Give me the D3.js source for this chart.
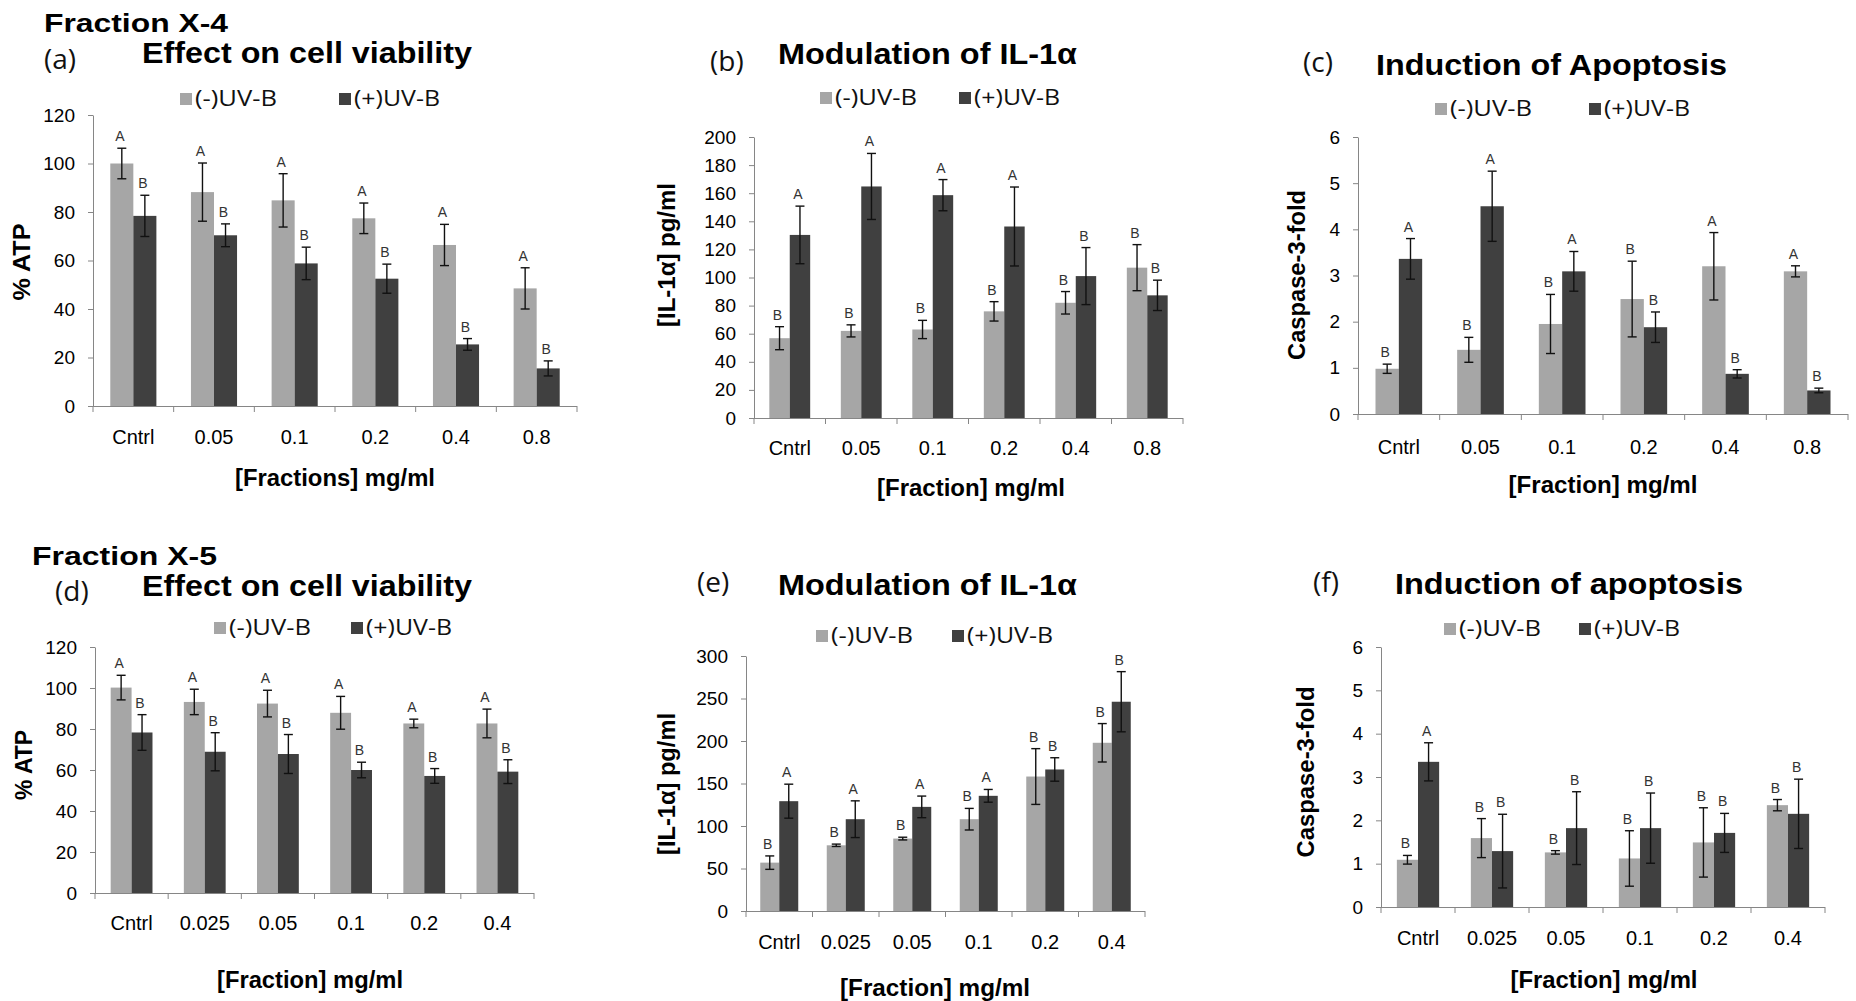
<!DOCTYPE html>
<html>
<head>
<meta charset="utf-8">
<script src="https://cdn.jsdelivr.net/npm/d3@7"></script>
<style>
  body { margin: 0; background: #fff; }
  svg { display: block; }
</style>
</head>
<body>
<div id="chart"></div>
<script>
// ---------- data ----------
var catsX4 = ["Cntrl", "0.05", "0.1", "0.2", "0.4", "0.8"];
var catsX5 = ["Cntrl", "0.025", "0.05", "0.1", "0.2", "0.4"];
var seriesNames = ["(-)UV-B", "(+)UV-B"];

// (a) Fraction X-4, cell viability (% ATP)
var atpX4Neg    = [100, 88.2, 84.8, 77.4, 66.4, 48.5];
var atpX4NegErr = [6.3, 12, 11, 6.3, 8.5, 8.5];
var atpX4Pos    = [78.4, 70.4, 58.8, 52.5, 25.4, 15.5];
var atpX4PosErr = [8.5, 4.7, 6.7, 6, 2.4, 3.1];
var atpX4NegSig = ["A", "A", "A", "A", "A", "A"];
var atpX4PosSig = ["B", "B", "B", "B", "B", "B"];

// (b) Fraction X-4, IL-1a pg/ml
var ilX4Neg    = [56.8, 62, 63, 75.9, 82, 107];
var ilX4NegErr = [8.2, 4.3, 6.5, 6.9, 8, 16.4];
var ilX4Pos    = [130.3, 164.8, 158.6, 136.3, 101, 87.3];
var ilX4PosErr = [20.5, 23.5, 11.1, 28.1, 20.3, 10.8];
var ilX4NegSig = ["B", "B", "B", "B", "B", "B"];
var ilX4PosSig = ["A", "A", "A", "A", "B", "B"];

// (c) Fraction X-4, caspase-3 fold
var casX4Neg    = [0.98, 1.39, 1.95, 2.49, 3.2, 3.09];
var casX4NegErr = [0.1, 0.27, 0.64, 0.82, 0.73, 0.12];
var casX4Pos    = [3.36, 4.5, 3.09, 1.88, 0.87, 0.51];
var casX4PosErr = [0.44, 0.76, 0.43, 0.33, 0.09, 0.05];
var casX4NegSig = ["B", "B", "B", "B", "A", "A"];
var casX4PosSig = ["A", "A", "A", "B", "B", "B"];

// (d) Fraction X-5, cell viability (% ATP)
var atpX5Neg    = [100.2, 93.2, 92.4, 87.9, 82.7, 82.7];
var atpX5NegErr = [6, 6.2, 6.5, 8, 2.1, 7];
var atpX5Pos    = [78.3, 68.9, 67.8, 60, 57.1, 59.2];
var atpX5PosErr = [8.7, 9.3, 9.5, 3.8, 3.6, 5.8];
var atpX5NegSig = ["A", "A", "A", "A", "A", "A"];
var atpX5PosSig = ["B", "B", "B", "B", "B", "B"];

// (e) Fraction X-5, IL-1a pg/ml
var ilX5Neg    = [56.9, 77.3, 85.2, 108, 158.2, 197.9];
var ilX5NegErr = [7.9, 1.4, 1.6, 12.7, 32.8, 22.6];
var ilX5Pos    = [129.2, 108, 122.5, 135.5, 166.5, 246.2];
var ilX5PosErr = [20, 21.6, 12.7, 7.5, 13.8, 35.4];
var ilX5NegSig = ["B", "B", "B", "B", "B", "B"];
var ilX5PosSig = ["A", "A", "A", "A", "B", "B"];

// (f) Fraction X-5, caspase-3 fold
var casX5Neg    = [1.09, 1.59, 1.26, 1.12, 1.49, 2.35];
var casX5NegErr = [0.1, 0.45, 0.04, 0.64, 0.8, 0.13];
var casX5Pos    = [3.35, 1.29, 1.82, 1.82, 1.71, 2.15];
var casX5PosErr = [0.44, 0.85, 0.84, 0.81, 0.45, 0.8];
var casX5NegSig = ["B", "B", "B", "B", "B", "B"];
var casX5PosSig = ["A", "B", "B", "B", "B", "B"];

// ---------- page ----------
var svgWidth = 1856;
var svgHeight = 1001;

var lightGrey = "#a6a6a6";
var darkGrey = "#404040";
var axisGrey = "#868686";
var sans = "'Liberation Sans', Arial, sans-serif";
var soft = "'Open Sans', 'Liberation Sans', sans-serif";

var svg = d3.select("#chart")
    .append("svg")
    .attr("width", svgWidth)
    .attr("height", svgHeight);

// group headings
svg.append("text").text("Fraction X-4")
    .attr("x", 44).attr("y", 32)
    .attr("textLength", 184).attr("lengthAdjust", "spacingAndGlyphs")
    .style("font-family", sans).style("font-weight", "bold").style("font-size", "26px");

svg.append("text").text("Fraction X-5")
    .attr("x", 32).attr("y", 565)
    .attr("textLength", 185).attr("lengthAdjust", "spacingAndGlyphs")
    .style("font-family", sans).style("font-weight", "bold").style("font-size", "26px");

// panel layouts (positions only; values come from the arrays above)
var panels = [
    {cats: catsX4, neg: atpX4Neg, negErr: atpX4NegErr, pos: atpX4Pos, posErr: atpX4PosErr,
     negSig: atpX4NegSig, posSig: atpX4PosSig, yMax: 120, yStep: 20,
     x0: 93, x1: 577, yTop: 115, y0: 406,
     tag: "(a)", tagX: 44, tagY: 69,
     title: "Effect on cell viability", titleX: 142, titleY: 63, titleW: 330,
     legY: 99, legX: [180, 339],
     yLabel: "% ATP", yLabX: 22, yLabY: 262, yLabW: 77,
     xLabel: "[Fractions] mg/ml", xLabX: 335, xLabY: 486, xLabW: 200, catY: 444},
    {cats: catsX4, neg: ilX4Neg, negErr: ilX4NegErr, pos: ilX4Pos, posErr: ilX4PosErr,
     negSig: ilX4NegSig, posSig: ilX4PosSig, yMax: 200, yStep: 20,
     x0: 754, x1: 1183, yTop: 137, y0: 418,
     tag: "(b)", tagX: 710, tagY: 71,
     title: "Modulation of IL-1\u03b1", titleX: 778, titleY: 64, titleW: 299,
     legY: 98, legX: [820, 959],
     yLabel: "[IL-1\u03b1] pg/ml", yLabX: 667, yLabY: 255, yLabW: 144,
     xLabel: "[Fraction] mg/ml", xLabX: 971, xLabY: 496, xLabW: 188, catY: 455},
    {cats: catsX4, neg: casX4Neg, negErr: casX4NegErr, pos: casX4Pos, posErr: casX4PosErr,
     negSig: casX4NegSig, posSig: casX4PosSig, yMax: 6, yStep: 1,
     x0: 1358, x1: 1848, yTop: 137, y0: 414,
     tag: "(c)", tagX: 1303, tagY: 72,
     title: "Induction of Apoptosis", titleX: 1376, titleY: 75, titleW: 351,
     legY: 109, legX: [1435, 1589],
     yLabel: "Caspase-3-fold", yLabX: 1297, yLabY: 275, yLabW: 170,
     xLabel: "[Fraction] mg/ml", xLabX: 1603, xLabY: 493, xLabW: 189, catY: 454},
    {cats: catsX5, neg: atpX5Neg, negErr: atpX5NegErr, pos: atpX5Pos, posErr: atpX5PosErr,
     negSig: atpX5NegSig, posSig: atpX5PosSig, yMax: 120, yStep: 20,
     x0: 95, x1: 534, yTop: 647, y0: 893,
     tag: "(d)", tagX: 55, tagY: 601,
     title: "Effect on cell viability", titleX: 142, titleY: 596, titleW: 330,
     legY: 628, legX: [214, 351],
     yLabel: "% ATP", yLabX: 24, yLabY: 765, yLabW: 70,
     xLabel: "[Fraction] mg/ml", xLabX: 310, xLabY: 988, xLabW: 186, catY: 930},
    {cats: catsX5, neg: ilX5Neg, negErr: ilX5NegErr, pos: ilX5Pos, posErr: ilX5PosErr,
     negSig: ilX5NegSig, posSig: ilX5PosSig, yMax: 300, yStep: 50,
     x0: 746, x1: 1145, yTop: 656, y0: 911,
     tag: "(e)", tagX: 697, tagY: 592,
     title: "Modulation of IL-1\u03b1", titleX: 778, titleY: 595, titleW: 299,
     legY: 636, legX: [816, 952],
     yLabel: "[IL-1\u03b1] pg/ml", yLabX: 667, yLabY: 784, yLabW: 142,
     xLabel: "[Fraction] mg/ml", xLabX: 935, xLabY: 996, xLabW: 190, catY: 949},
    {cats: catsX5, neg: casX5Neg, negErr: casX5NegErr, pos: casX5Pos, posErr: casX5PosErr,
     negSig: casX5NegSig, posSig: casX5PosSig, yMax: 6, yStep: 1,
     x0: 1381, x1: 1825, yTop: 647, y0: 907,
     tag: "(f)", tagX: 1313, tagY: 592,
     title: "Induction of apoptosis", titleX: 1395, titleY: 594, titleW: 348,
     legY: 629, legX: [1444, 1579],
     yLabel: "Caspase-3-fold", yLabX: 1306, yLabY: 772, yLabW: 171,
     xLabel: "[Fraction] mg/ml", xLabX: 1604, xLabY: 988, xLabW: 187, catY: 945}
];

panels.forEach(drawPanel);

function drawPanel(p) {
    var g = svg.append("g");

    // scales
    var x = d3.scaleBand().domain(p.cats).range([p.x0, p.x1]);
    var bw = x.bandwidth();
    var gap = bw * 1.5 / 3.5;   // excel style gap width 150%
    var xs = d3.scaleBand().domain(["neg", "pos"]).range([gap / 2, bw - gap / 2]);
    var y = d3.scaleLinear().domain([0, p.yMax]).range([p.y0, p.yTop]);

    // headings
    g.append("text").text(p.tag)
        .attr("x", p.tagX).attr("y", p.tagY)
        .style("font-family", soft).style("font-size", "28px").style("fill", "#111");

    g.append("text").text(p.title)
        .attr("x", p.titleX).attr("y", p.titleY)
        .attr("textLength", p.titleW).attr("lengthAdjust", "spacingAndGlyphs")
        .style("font-family", sans).style("font-weight", "bold").style("font-size", "30px");

    // legend
    var legendFill = [lightGrey, darkGrey];
    seriesNames.forEach(function(name, i) {
        g.append("rect")
            .attr("x", p.legX[i]).attr("y", p.legY - 6)
            .attr("width", 12).attr("height", 12)
            .attr("fill", legendFill[i]);
        g.append("text").text(name)
            .attr("x", p.legX[i] + 15).attr("y", p.legY + 7)
            .attr("textLength", i === 0 ? 82 : 86).attr("lengthAdjust", "spacingAndGlyphs")
            .style("font-family", soft).style("font-size", "21px").style("fill", "#111");
    });

    // y axis
    var yAxis = d3.axisLeft(y)
        .tickValues(d3.range(0, p.yMax + p.yStep / 2, p.yStep))
        .tickSize(5)
        .tickSizeOuter(0)
        .tickPadding(13)
        .tickFormat(d3.format("d"));

    var yg = g.append("g")
        .attr("transform", `translate(${p.x0},0)`)
        .call(yAxis);
    yg.select(".domain").attr("stroke", axisGrey);
    yg.selectAll(".tick line").attr("stroke", axisGrey);
    yg.selectAll(".tick text")
        .style("font-family", sans).style("font-size", "19px").style("fill", "#000");

    // bars
    var rows = [];
    p.cats.forEach(function(c, i) {
        rows.push({cat: c, s: "neg", v: p.neg[i], e: p.negErr[i], sig: p.negSig[i]});
        rows.push({cat: c, s: "pos", v: p.pos[i], e: p.posErr[i], sig: p.posSig[i]});
    });

    g.selectAll(".bar")
        .data(rows)
        .enter()
        .append("rect")
        .attr("x", d => x(d.cat) + xs(d.s))
        .attr("y", d => y(d.v))
        .attr("width", xs.bandwidth())
        .attr("height", d => y(0) - y(d.v))
        .attr("fill", d => d.s === "neg" ? lightGrey : darkGrey);

    // x axis line + boundary ticks
    g.append("line")
        .attr("x1", p.x0).attr("x2", p.x1)
        .attr("y1", p.y0 + 0.5).attr("y2", p.y0 + 0.5)
        .attr("stroke", axisGrey);

    var bounds = p.cats.map(c => x(c)).concat([p.x1]);
    g.selectAll(".xtick")
        .data(bounds)
        .enter()
        .append("line")
        .attr("x1", d => d).attr("x2", d => d)
        .attr("y1", p.y0).attr("y2", p.y0 + 6)
        .attr("stroke", axisGrey);

    g.selectAll(".xlab")
        .data(p.cats)
        .enter()
        .append("text")
        .text(d => d)
        .attr("x", d => x(d) + bw / 2)
        .attr("y", p.catY)
        .attr("text-anchor", "middle")
        .style("font-family", sans).style("font-size", "20px").style("fill", "#000");

    // error bars
    var cx = d => x(d.cat) + xs(d.s) + xs.bandwidth() / 2;
    var eb = g.selectAll(".err").data(rows).enter().append("g");
    eb.append("line")
        .attr("x1", cx).attr("x2", cx)
        .attr("y1", d => y(d.v + d.e)).attr("y2", d => y(d.v - d.e))
        .attr("stroke", "#111").attr("stroke-width", 1.4);
    eb.append("line")
        .attr("x1", d => cx(d) - 4.5).attr("x2", d => cx(d) + 4.5)
        .attr("y1", d => y(d.v + d.e)).attr("y2", d => y(d.v + d.e))
        .attr("stroke", "#111").attr("stroke-width", 1.4);
    eb.append("line")
        .attr("x1", d => cx(d) - 4.5).attr("x2", d => cx(d) + 4.5)
        .attr("y1", d => y(d.v - d.e)).attr("y2", d => y(d.v - d.e))
        .attr("stroke", "#111").attr("stroke-width", 1.4);

    // significance letters
    g.selectAll(".sig")
        .data(rows)
        .enter()
        .append("text")
        .text(d => d.sig)
        .attr("x", d => cx(d) - 2)
        .attr("y", d => y(d.v + d.e) - 7)
        .attr("text-anchor", "middle")
        .style("font-family", sans).style("font-size", "14px").style("fill", "#333");

    // axis titles
    g.append("text").text(p.yLabel)
        .attr("transform", `translate(${p.yLabX},${p.yLabY}) rotate(-90)`)
        .attr("text-anchor", "middle")
        .attr("dy", "0.35em")
        .attr("textLength", p.yLabW).attr("lengthAdjust", "spacingAndGlyphs")
        .style("font-family", sans).style("font-weight", "bold").style("font-size", "24px");

    g.append("text").text(p.xLabel)
        .attr("x", p.xLabX - p.xLabW / 2).attr("y", p.xLabY)
        .attr("textLength", p.xLabW).attr("lengthAdjust", "spacingAndGlyphs")
        .style("font-family", sans).style("font-weight", "bold").style("font-size", "23px");
}
</script>
</body>
</html>
